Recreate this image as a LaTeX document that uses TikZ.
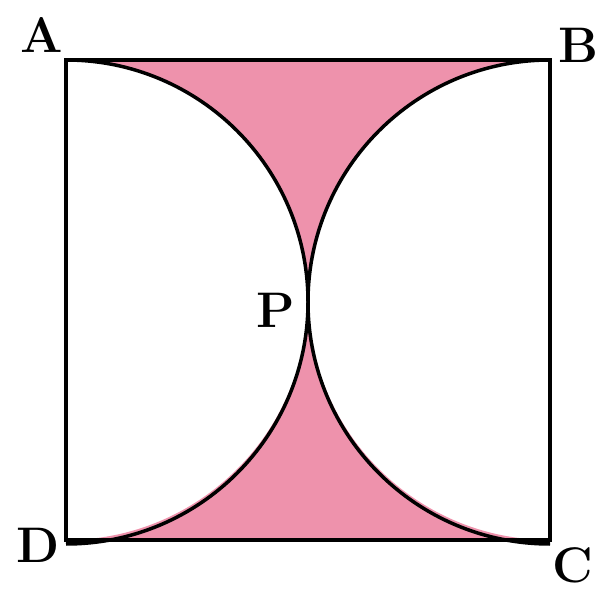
\documentclass[tikz,border=0pt]{standalone}
\begin{document}
\begin{tikzpicture}[x=1pt,y=1pt,
  lbl/.style={font=\fontsize{50}{50}\selectfont\bfseries, inner sep=0pt},
  edge/.style={line width=4pt, line join=miter},
  arcline/.style={line width=3.5pt}]
\definecolor{pinkfill}{RGB}{238,146,172}
\useasboundingbox (0,0) rectangle (615,602);
\coordinate (A) at (66,542);
\coordinate (B) at (550,542);
\coordinate (C) at (550,62);
\coordinate (D) at (66,62);
\coordinate (P) at (308,302);
% shaded regions
\fill[pinkfill] (A) -- (B) arc[start angle=90,end angle=180,radius=242] arc[start angle=0,end angle=90,radius=242] -- cycle;
\fill[pinkfill] (D) -- (C) arc[start angle=-90,end angle=-180,radius=242] arc[start angle=0,end angle=-90,radius=242] -- cycle;
% arcs
\draw[arcline] (A) arc[start angle=90,end angle=-90,radius=242];
\draw[arcline] (B) arc[start angle=90,end angle=270,radius=242];
% square
\draw[edge] (A) -- (B) -- (C) -- (D) -- cycle;
% labels
\node[lbl] (la) at (42,567) {A};
\node[lbl] (lb) at (578,557) {B};
\node[lbl] (ld) at (38,57) {D};
\node[lbl] (lc) at (573,37) {C};
\node[lbl] (lp) at (276,292) {P};
\end{tikzpicture}
\end{document}
